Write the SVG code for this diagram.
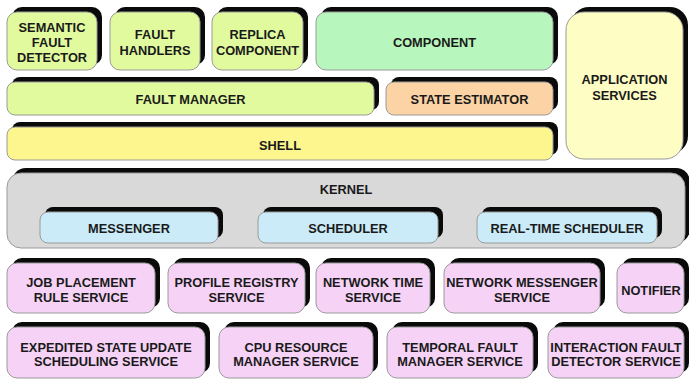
<svg xmlns="http://www.w3.org/2000/svg" width="689" height="381" viewBox="0 0 689 381">
<style>
.sh{fill:#0a0a0a}
.b{stroke:#9a9a9a;stroke-width:1}
.lg{fill:#e1fa9e}
.gr{fill:#b7f7bd}
.ye{fill:#fdf58e}
.ap{fill:#fdfdc4}
.or{fill:#fbd3a5}
.ke{fill:#d9d9d9}
.bl{fill:#cbebf8}
.pk{fill:#f6d3f6}
text{font-family:"Liberation Sans",Arial,sans-serif;font-weight:bold;font-size:12.8px;fill:#1a1a1a;text-anchor:middle}
</style>
<rect width="689" height="381" fill="#ffffff"/>
<g id="semantic-fault-detector">
<rect class="sh" x="12" y="7" width="90" height="58" rx="10"/>
<rect class="b lg" x="7" y="12" width="90" height="58" rx="10"/>
<text x="52" y="31.5">SEMANTIC</text><text x="52" y="46.5">FAULT</text><text x="52" y="61.5">DETECTOR</text>
</g>
<g id="fault-handlers">
<rect class="sh" x="115" y="7" width="90" height="58" rx="10"/>
<rect class="b lg" x="110" y="12" width="90" height="58" rx="10"/>
<text x="155" y="39">FAULT</text><text x="155" y="55">HANDLERS</text>
</g>
<g id="replica-component">
<rect class="sh" x="217" y="7" width="91" height="58" rx="10"/>
<rect class="b lg" x="212" y="12" width="91" height="58" rx="10"/>
<text x="257.5" y="39">REPLICA</text><text x="257.5" y="55">COMPONENT</text>
</g>
<g id="component">
<rect class="sh" x="321" y="7" width="237" height="58" rx="10"/>
<rect class="b gr" x="316" y="12" width="237" height="58" rx="10"/>
<text x="434.5" y="46.5">COMPONENT</text>
</g>
<g id="application-services">
<rect class="sh" x="571" y="7" width="117" height="147" rx="18"/>
<rect class="b ap" x="566" y="12" width="117" height="147" rx="18"/>
<text x="624.5" y="83.5">APPLICATION</text><text x="624.5" y="99.5">SERVICES</text>
</g>
<g id="fault-manager">
<rect class="sh" x="12" y="77" width="367" height="33" rx="8"/>
<rect class="b lg" x="7" y="82" width="367" height="33" rx="8"/>
<text x="190.5" y="103.5">FAULT MANAGER</text>
</g>
<g id="state-estimator">
<rect class="sh" x="391" y="77" width="167" height="33" rx="8"/>
<rect class="b or" x="386" y="82" width="167" height="33" rx="8"/>
<text x="469.5" y="103.5">STATE ESTIMATOR</text>
</g>
<g id="shell">
<rect class="sh" x="12" y="122" width="546" height="33" rx="8"/>
<rect class="b ye" x="7" y="127" width="546" height="33" rx="8"/>
<text x="280" y="149.5">SHELL</text>
</g>
<g id="kernel">
<rect class="sh" x="12" y="168" width="678" height="75" rx="14"/>
<rect class="b ke" x="7" y="173" width="678" height="75" rx="14"/>
<text x="346" y="193.5">KERNEL</text>
</g>
<g id="messenger">
<rect class="sh" x="45" y="207" width="178" height="31" rx="8"/>
<rect class="b bl" x="40" y="212" width="178" height="31" rx="8"/>
<text x="129" y="232.5">MESSENGER</text>
</g>
<g id="scheduler">
<rect class="sh" x="263" y="207" width="180" height="31" rx="8"/>
<rect class="b bl" x="258" y="212" width="180" height="31" rx="8"/>
<text x="348" y="232.5">SCHEDULER</text>
</g>
<g id="real-time-scheduler">
<rect class="sh" x="482" y="207" width="180" height="31" rx="8"/>
<rect class="b bl" x="477" y="212" width="180" height="31" rx="8"/>
<text x="567" y="232.5">REAL-TIME SCHEDULER</text>
</g>
<g id="job-placement-rule-service">
<rect class="sh" x="12" y="258" width="148" height="50" rx="10"/>
<rect class="b pk" x="7" y="263" width="148" height="50" rx="10"/>
<text x="81" y="286.5">JOB PLACEMENT</text><text x="81" y="301.5">RULE SERVICE</text>
</g>
<g id="profile-registry-service">
<rect class="sh" x="173" y="258" width="137" height="50" rx="10"/>
<rect class="b pk" x="168" y="263" width="137" height="50" rx="10"/>
<text x="236.5" y="286.5">PROFILE REGISTRY</text><text x="236.5" y="301.5">SERVICE</text>
</g>
<g id="network-time-service">
<rect class="sh" x="321" y="258" width="114" height="50" rx="10"/>
<rect class="b pk" x="316" y="263" width="114" height="50" rx="10"/>
<text x="373" y="286.5">NETWORK TIME</text><text x="373" y="301.5">SERVICE</text>
</g>
<g id="network-messenger-service">
<rect class="sh" x="449" y="258" width="156" height="50" rx="10"/>
<rect class="b pk" x="444" y="263" width="156" height="50" rx="10"/>
<text x="522" y="286.5">NETWORK MESSENGER</text><text x="522" y="301.5">SERVICE</text>
</g>
<g id="notifier">
<rect class="sh" x="622" y="258" width="67" height="50" rx="10"/>
<rect class="b pk" x="617" y="263" width="67" height="50" rx="10"/>
<text x="651" y="294.5">NOTIFIER</text>
</g>
<g id="expedited-state-update-scheduling-service">
<rect class="sh" x="12" y="322" width="198" height="51" rx="10"/>
<rect class="b pk" x="7" y="327" width="198" height="51" rx="10"/>
<text x="106" y="351.5">EXPEDITED STATE UPDATE</text><text x="106" y="366">SCHEDULING SERVICE</text>
</g>
<g id="cpu-resource-manager-service">
<rect class="sh" x="224" y="322" width="154" height="51" rx="10"/>
<rect class="b pk" x="219" y="327" width="154" height="51" rx="10"/>
<text x="296" y="351.5">CPU RESOURCE</text><text x="296" y="366">MANAGER SERVICE</text>
</g>
<g id="temporal-fault-manager-service">
<rect class="sh" x="392" y="322" width="146" height="51" rx="10"/>
<rect class="b pk" x="387" y="327" width="146" height="51" rx="10"/>
<text x="460" y="351.5">TEMPORAL FAULT</text><text x="460" y="366">MANAGER SERVICE</text>
</g>
<g id="interaction-fault-detector-service">
<rect class="sh" x="553" y="322" width="136" height="51" rx="10"/>
<rect class="b pk" x="548" y="327" width="136" height="51" rx="10"/>
<text x="616" y="351.5">INTERACTION FAULT</text><text x="616" y="366">DETECTOR SERVICE</text>
</g>
<g id="connectors"></g>
</svg>
